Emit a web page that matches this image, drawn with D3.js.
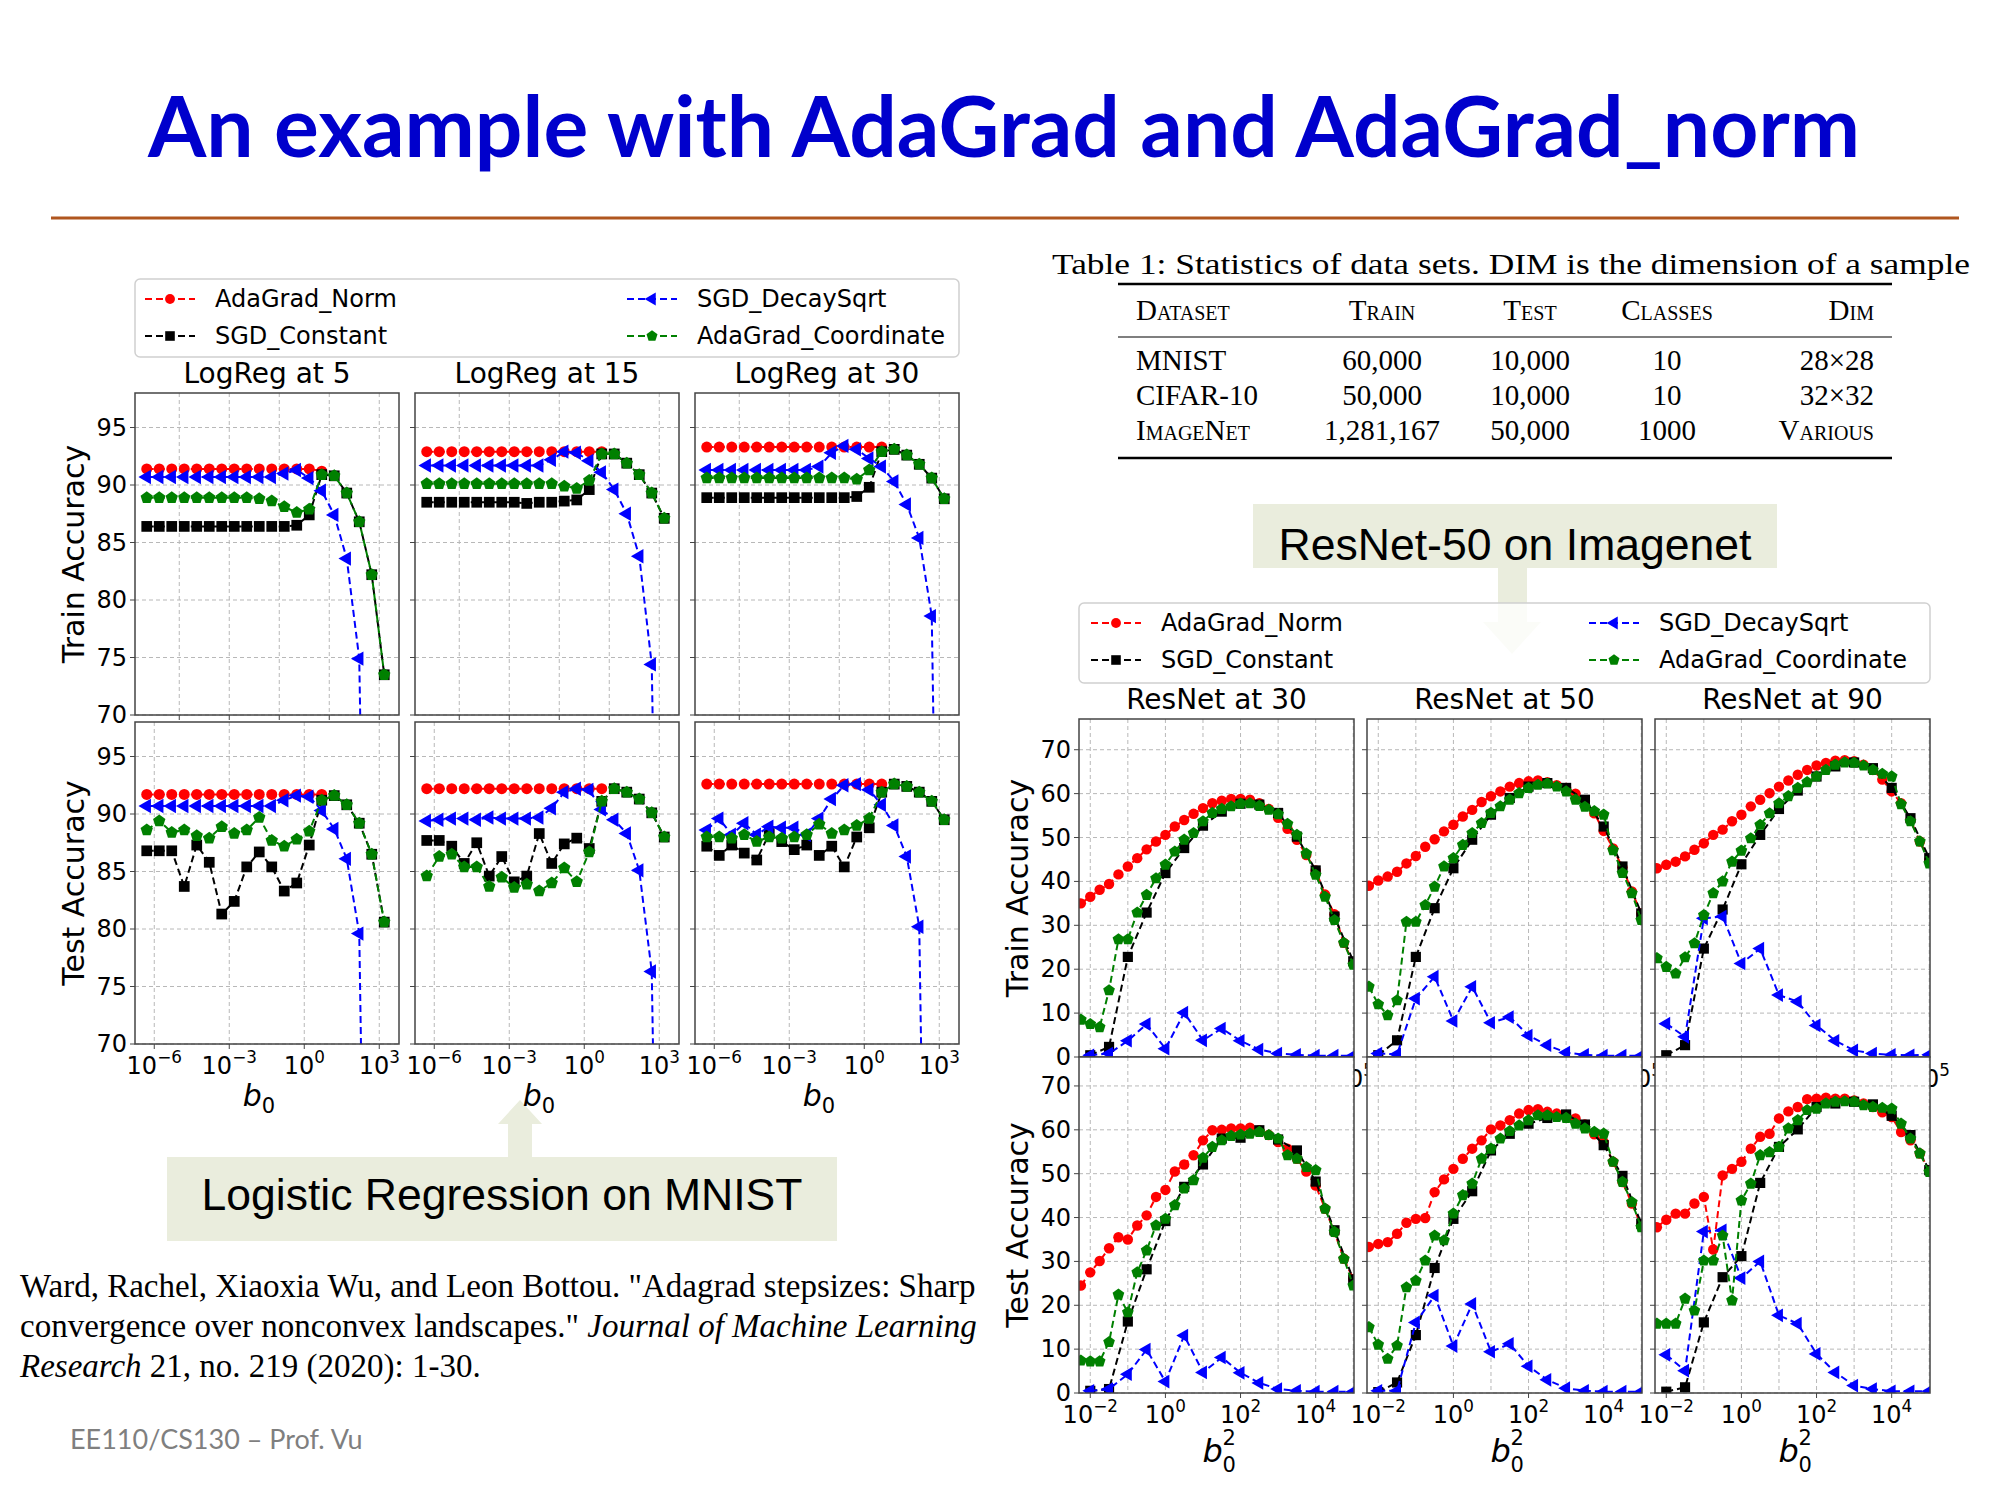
<!DOCTYPE html>
<html>
<head>
<meta charset="utf-8">
<script src="https://cdn.jsdelivr.net/npm/d3@7"></script>
<style>
  body { margin: 0; background: #fff; }
  svg { display: block; }
</style>
</head>
<body>
<script>
// ---- data: log-reg on MNIST (x = log10 b0) ----
const lrExp = [-6.3,-5.8,-5.3,-4.8,-4.3,-3.8,-3.3,-2.8,-2.3,-1.8,-1.3,-0.8,-0.3,0.2,0.7,1.2,1.7,2.2,2.7,3.2];

const lr5TrainNorm = [91.4,91.4,91.4,91.4,91.4,91.4,91.4,91.4,91.4,91.4,91.4,91.4,91.4,91.4,91.2];
const lr5TrainConst = [86.4,86.4,86.4,86.4,86.4,86.4,86.4,86.4,86.4,86.4,86.4,86.4,86.5,87.4,90.9,90.8,89.3,86.8,82.2,73.5];
const lr5TrainDecay = [90.7,90.7,90.7,90.7,90.7,90.7,90.7,90.7,90.7,90.7,90.7,91.0,91.3,90.6,89.5,87.4,83.6,74.9,10,10];
const lr5TrainCoord = [88.9,88.9,88.9,88.9,88.9,88.9,88.9,88.9,88.9,88.8,88.6,88.1,87.6,87.9,90.9,90.8,89.3,86.8,82.2,73.5];

const lr15TrainNorm = [92.9,92.9,92.9,92.9,92.9,92.9,92.9,92.9,92.9,92.9,92.9,92.9,92.9,92.9,92.9];
const lr15TrainConst = [88.5,88.5,88.5,88.5,88.5,88.5,88.5,88.5,88.4,88.5,88.5,88.6,88.7,89.6,92.7,92.7,91.9,90.9,89.3,87.1];
const lr15TrainDecay = [91.7,91.7,91.7,91.7,91.7,91.7,91.7,91.7,91.7,91.7,92.2,92.9,92.8,92.1,91.1,89.6,87.5,83.8,74.4,10];
const lr15TrainCoord = [90.1,90.1,90.1,90.1,90.1,90.1,90.1,90.1,90.1,90.1,90.1,89.9,89.7,90.4,92.7,92.7,91.9,90.9,89.3,87.1];

const lr30TrainNorm = [93.3,93.3,93.3,93.3,93.3,93.3,93.3,93.3,93.3,93.3,93.3,93.3,93.3,93.3,93.3];
const lr30TrainConst = [88.9,88.9,88.9,88.9,88.9,88.9,88.9,88.9,88.9,88.9,88.9,88.9,89.0,89.8,92.9,93.1,92.6,91.8,90.6,88.8];
const lr30TrainDecay = [91.3,91.3,91.3,91.3,91.3,91.3,91.3,91.3,91.3,91.6,92.8,93.4,93.1,92.3,91.6,90.3,88.3,85.4,78.6,10];
const lr30TrainCoord = [90.6,90.6,90.6,90.6,90.6,90.6,90.6,90.6,90.6,90.6,90.6,90.6,90.5,91.3,92.9,93.1,92.6,91.8,90.6,88.8];

const lr5TestNorm = [91.7,91.7,91.7,91.7,91.7,91.7,91.7,91.7,91.7,91.7,91.7,91.7,91.7,91.7,91.7];
const lr5TestConst = [86.8,86.8,86.8,83.7,87.3,85.8,81.3,82.4,85.4,86.7,85.4,83.3,84.0,87.3,91.2,91.6,90.8,89.2,86.5,80.6];
const lr5TestDecay = [90.7,90.7,90.7,90.7,90.7,90.7,90.7,90.7,90.7,90.7,90.7,91.2,91.6,91.5,90.3,88.7,86.1,79.6,10,10];
const lr5TestCoord = [88.6,89.4,88.4,88.6,88.1,87.9,88.9,88.3,88.6,89.7,87.7,87.2,87.8,88.5,91.2,91.6,90.8,89.2,86.5,80.6];

const lr15TestNorm = [92.2,92.2,92.2,92.2,92.2,92.2,92.2,92.2,92.2,92.2,92.2,92.2,92.2,92.2,92.2];
const lr15TestConst = [87.7,87.7,87.2,85.7,87.5,84.6,86.3,84.1,84.6,88.3,85.7,87.4,87.9,87.0,91.1,92.2,91.9,91.3,90.1,88.0];
const lr15TestDecay = [89.4,89.5,89.6,89.6,89.5,89.7,89.6,89.6,89.6,89.7,90.5,91.9,92.2,92.1,90.4,89.5,88.3,85.1,76.3,10];
const lr15TestCoord = [84.6,86.3,86.5,85.4,85.4,83.7,84.5,83.6,83.9,83.3,84.0,85.3,84.1,86.7,91.1,92.2,91.9,91.3,90.1,88.0];

const lr30TestNorm = [92.6,92.6,92.6,92.6,92.6,92.6,92.6,92.6,92.6,92.6,92.6,92.6,92.6,92.6,92.6];
const lr30TestConst = [87.2,86.4,87.3,86.6,86.0,88.3,87.6,86.9,87.3,86.4,87.2,85.4,88.0,88.8,91.9,92.6,92.4,91.9,91.1,89.5];
const lr30TestDecay = [88.6,89.6,88.2,89.2,88.2,88.9,88.8,88.8,88.2,89.6,91.3,92.5,92.6,92.1,90.8,89.0,86.3,80.2,10,10];
const lr30TestCoord = [88.0,88.0,87.9,88.2,87.6,88.0,87.9,88.0,88.2,89.1,88.3,88.6,89.0,89.6,91.9,92.6,92.4,91.9,91.1,89.5];

// ---- data: ResNet-50 on ImageNet (x = log10 b0^2) ----
const rnFineExp = [-2.25,-2,-1.75,-1.5,-1.25,-1,-0.75,-0.5,-0.25,0,0.25,0.5,0.75,1,1.25,1.5,1.75,2,2.25,2.5,2.75,3,3.25,3.5,3.75,4,4.25,4.5,4.75,5];
const rnCoarseExp = [-2,-1.5,-1,-0.5,0,0.5,1,1.5,2,2.5,3,3.5,4,4.5,5];

const rn30TrainNorm = [35.0,36.5,38.1,39.4,41.6,43.4,45.3,47.3,49.1,50.6,52.5,54.0,55.4,56.7,57.8,58.4,58.8,58.8,58.6,57.8,56.5,54.5,52.0,49.5,46.0,42.5,37.0,32.5,26.0,21.5];
const rn30TrainCoord = [8.5,7.5,6.8,15.2,26.8,26.8,32.9,36.9,40.7,43.8,46.8,49.5,51.0,53.7,55.6,56.5,57.1,57.7,57.8,57.2,56.3,55.3,53.1,50.6,46.3,41.5,36.5,31.2,26.0,21.0];
const rn30TrainConst = [0.4,2.3,22.8,32.9,41.9,47.6,52.7,55.9,57.7,57.5,55.6,50.2,42.5,32.0,21.8];
const rn30TrainDecay = [0.4,0.8,3.7,7.5,1.9,10.1,3.8,6.5,3.7,1.7,0.8,0.5,0.3,0.3,0.3];

const rn50TrainNorm = [39.0,40.2,41.1,42.2,44.1,45.8,47.9,49.6,51.4,52.9,54.8,56.3,58.1,59.4,60.5,61.6,62.4,62.8,63.0,62.6,61.9,61.3,60.0,58.3,55.5,51.5,47.5,43.2,37.7,32.7];
const rn50TrainCoord = [16.0,12.0,9.5,12.9,30.8,30.8,34.6,38.8,43.4,45.3,48.3,51.0,53.3,55.6,57.1,58.6,60.1,61.3,62.0,62.3,61.6,60.5,58.6,57.0,56.0,55.2,47.1,41.9,37.3,31.2];
const rn50TrainConst = [0.4,3.8,22.8,33.9,43.0,49.5,55.2,59.0,61.6,62.4,61.3,58.6,52.5,43.4,32.7];
const rn50TrainDecay = [0.8,0.6,13.3,18.3,8.2,16.0,7.8,9.1,4.9,2.7,1.0,0.5,0.3,0.3,0.3];

const rn90TrainNorm = [43.0,43.8,44.5,45.7,47.2,48.7,50.6,51.8,53.7,55.2,57.1,58.6,60.1,61.6,63.0,64.3,65.4,66.4,67.0,67.5,67.6,67.4,66.6,65.4,63.2,60.5,57.8,54.0,49.1,44.9];
const rn90TrainCoord = [22.5,20.5,19.0,22.7,25.9,32.3,37.3,40.0,44.5,47.0,49.8,52.9,55.5,57.8,59.4,61.3,62.6,63.9,65.4,66.6,67.1,67.0,66.4,65.4,64.5,63.9,57.6,53.7,49.1,44.1];
const rn90TrainConst = [0.4,2.7,24.7,33.6,43.9,50.6,56.5,60.7,63.9,66.2,67.1,65.8,61.3,54.4,45.3];
const rn90TrainDecay = [7.6,4.6,31.6,32.0,21.3,24.7,14.1,12.6,7.2,3.7,1.5,0.8,0.5,0.4,0.5];

const rn30TestNorm = [24.5,27.5,30.1,33.0,35.5,35.0,38.2,40.5,44.7,46.3,50.5,52.1,54.2,57.6,59.9,60.0,60.3,60.3,60.5,59.9,58.8,57.2,55.7,53.4,50.5,47.3,42.0,36.7,30.6,26.0];
const rn30TestCoord = [7.4,7.2,7.2,11.6,22.4,18.4,27.5,32.5,38.2,39.7,42.8,46.6,48.5,53.6,56.1,57.6,58.6,58.9,59.1,59.5,58.8,58.0,54.2,53.4,51.5,50.8,42.0,36.7,30.6,24.5];
const rn30TestConst = [0.5,0.9,16.3,28.2,39.2,47.0,52.1,58.0,58.2,59.9,57.8,55.3,48.2,37.1,25.9];
const rn30TestDecay = [0.5,0.9,4.3,9.9,2.6,13.1,4.7,8.1,4.6,2.3,0.9,0.5,0.3,0.3,0.3];

const rn50TestNorm = [33.3,34.0,34.4,36.3,38.8,39.7,39.9,45.8,48.7,51.1,53.4,55.7,57.6,60.1,61.0,62.2,63.7,64.5,64.7,64.1,63.7,63.3,62.6,61.2,59.0,57.2,52.7,48.1,43.2,38.2];
const rn50TestCoord = [15.0,11.0,7.8,10.8,24.1,25.6,30.2,35.9,34.8,40.9,45.1,47.7,53.4,55.7,58.0,59.7,61.0,62.2,63.3,63.3,62.9,62.7,61.4,60.3,59.5,59.1,52.7,48.1,43.5,37.8];
const rn50TestConst = [0.2,2.4,13.2,28.5,39.7,46.0,55.3,59.1,61.4,62.7,63.5,61.2,56.5,49.5,38.6];
const rn50TestDecay = [0.5,0.5,16.1,22.2,10.7,20.3,9.4,11.2,6.1,3.0,1.1,0.5,0.3,0.3,0.3];

const rn90TestNorm = [37.8,39.5,40.9,40.9,43.2,44.7,32.7,49.6,51.1,52.7,55.7,58.4,59.1,62.6,64.2,65.2,67.0,67.1,67.3,67.1,67.1,66.7,66.0,65.2,64.0,62.9,59.5,57.6,54.6,50.8];
const rn90TestCoord = [15.8,15.8,15.8,21.5,18.8,30.2,30.2,35.9,21.1,43.9,47.7,54.2,54.9,56.1,60.3,62.2,64.5,64.8,66.0,66.4,66.5,66.4,65.6,65.2,65.0,64.8,61.4,58.0,54.6,50.4];
const rn90TestConst = [0.3,1.3,16.1,26.4,31.2,47.9,56.1,60.1,65.2,66.0,66.4,65.8,63.2,58.8,50.8];
const rn90TestDecay = [8.7,5.1,36.8,37.1,26.2,30.0,17.7,15.8,8.9,4.7,1.7,0.9,0.4,0.4,0.4];

// ---- labels / ticks ----
const legendNames = ["AdaGrad_Norm", "SGD_Constant", "SGD_DecaySqrt", "AdaGrad_Coordinate"];
const lrTitles = ["LogReg at 5", "LogReg at 15", "LogReg at 30"];
const rnTitles = ["ResNet at 30", "ResNet at 50", "ResNet at 90"];
const lrYTicks = [70, 75, 80, 85, 90, 95];
const rnYTicks = [0, 10, 20, 30, 40, 50, 60, 70];
const lrXTicks = [-6, -3, 0, 3];
const lrTrainGrid = [-5, -3, -1, 1, 3];
const rnXTicks = [-2, 0, 2, 4];
const rnTrainXTicks = [5];
const rnGrid = [-2, -1, 0, 1, 2, 3, 4, 5];
const tableHead = ["Dataset", "Train", "Test", "Classes", "Dim"];
const tableRows = [
  ["MNIST", "60,000", "10,000", "10", "28×28"],
  ["CIFAR-10", "50,000", "10,000", "10", "32×32"],
  ["ImageNet", "1,281,167", "50,000", "1000", "Various"],
];

// ---- styles per method ----
const pentagon = {
  draw(ctx, size) {
    const r = Math.sqrt(size / 2.38);
    for (let i = 0; i < 5; i++) {
      const a = -Math.PI / 2 + i * 2 * Math.PI / 5;
      const px = r * Math.cos(a), py = r * Math.sin(a);
      i ? ctx.lineTo(px, py) : ctx.moveTo(px, py);
    }
    ctx.closePath();
  },
};
const style = {
  norm: { color: "#ff0000", sym: d3.symbolCircle, size: 95, rot: 0 },
  const: { color: "#000000", sym: d3.symbolSquare, size: 115, rot: 0 },
  decay: { color: "#0000ff", sym: d3.symbolTriangle, size: 90, rot: -90 },
  coord: { color: "#008000", sym: pentagon, size: 100, rot: 0 },
};
const legendKeys = ["norm", "const", "decay", "coord"];

const W = 2000, H = 1500;
const svg = d3.select("body").append("svg").attr("width", W).attr("height", H);
const sans = "'DejaVu Sans', sans-serif";
const serif = "'Liberation Serif', 'DejaVu Serif', serif";

// "10^e" tick label
function powLabel(g, x, y, e, fs) {
  const t = g.append("text").attr("x", x).attr("y", y).attr("text-anchor", "middle")
    .attr("font-family", sans).attr("font-size", fs).attr("fill", "#000");
  t.append("tspan").text("10");
  t.append("tspan").attr("dy", -fs * 0.45).attr("font-size", fs * 0.7)
    .text(e < 0 ? "\u2212" + Math.abs(e) : String(e));
}

let clipN = 0;
function panel(o) {
  const g = svg.append("g");
  const x = d3.scaleLog().domain([Math.pow(10, o.xDom[0]), Math.pow(10, o.xDom[1])]).range([o.x0, o.x0 + o.w]);
  const y = d3.scaleLinear().domain(o.yDom).range([o.y0 + o.h, o.y0]);
  g.append("rect").attr("x", o.x0).attr("y", o.y0).attr("width", o.w).attr("height", o.h).attr("fill", "#fff");

  // grid
  const grid = g.append("g").attr("stroke", "#b8b8b8").attr("stroke-width", 1).attr("stroke-dasharray", "4,3");
  o.xGrid.forEach((e) => grid.append("line").attr("x1", x(Math.pow(10, e))).attr("x2", x(Math.pow(10, e)))
    .attr("y1", o.y0).attr("y2", o.y0 + o.h));
  o.yTicks.forEach((v) => grid.append("line").attr("x1", o.x0).attr("x2", o.x0 + o.w)
    .attr("y1", y(v)).attr("y2", y(v)));

  // series
  const id = "clip" + (clipN++);
  svg.append("clipPath").attr("id", id).append("rect")
    .attr("x", o.x0).attr("y", o.y0).attr("width", o.w).attr("height", o.h);
  const plot = g.append("g").attr("clip-path", `url(#${id})`);
  o.series.forEach((s) => {
    const st = style[s.key];
    const pts = s.ys.map((v, i) => [x(Math.pow(10, s.xs[i])), y(v)]);
    plot.append("path").attr("d", d3.line()(pts)).attr("fill", "none")
      .attr("stroke", st.color).attr("stroke-width", 2).attr("stroke-dasharray", "7,4");
    const sym = d3.symbol().type(st.sym).size(st.size * (o.ms || 1));
    plot.append("g").selectAll("path").data(pts).join("path")
      .attr("d", sym).attr("fill", st.color)
      .attr("transform", (d) => `translate(${d[0]},${d[1]}) rotate(${st.rot})`);
  });

  // frame + ticks
  g.append("rect").attr("x", o.x0).attr("y", o.y0).attr("width", o.w).attr("height", o.h)
    .attr("fill", "none").attr("stroke", "#444").attr("stroke-width", 1.5);
  o.yTicks.forEach((v) => {
    g.append("line").attr("x1", o.x0 - 5).attr("x2", o.x0).attr("y1", y(v)).attr("y2", y(v)).attr("stroke", "#444");
    if (o.yLabels) g.append("text").attr("x", o.x0 - 8).attr("y", y(v) + 8).attr("text-anchor", "end")
      .attr("font-family", sans).attr("font-size", 24).text(v);
  });
  (o.xTicks || []).forEach((e) => {
    const xx = x(Math.pow(10, e));
    g.append("line").attr("x1", xx).attr("x2", xx).attr("y1", o.y0 + o.h).attr("y2", o.y0 + o.h + 5).attr("stroke", "#444");
    if (o.xLabels) powLabel(g, xx, o.y0 + o.h + 30, e, 24);
  });
  if (o.title) g.append("text").attr("x", o.x0 + o.w / 2).attr("y", o.y0 - 10).attr("text-anchor", "middle")
    .attr("font-family", sans).attr("font-size", 28).text(o.title);
  return g;
}

function legend(x0, y0, w, h, colX, textOff) {
  const g = svg.append("g");
  g.append("rect").attr("x", x0).attr("y", y0).attr("width", w).attr("height", h).attr("rx", 5)
    .attr("fill", "#fff").attr("fill-opacity", 0.8).attr("stroke", "#d0d0d0").attr("stroke-width", 1.5);
  legendKeys.forEach((k, i) => {
    const st = style[k];
    const cx = colX[Math.floor(i / 2)], cy = y0 + 20 + (i % 2) * 37;
    g.append("line").attr("x1", cx).attr("x2", cx + 50).attr("y1", cy).attr("y2", cy)
      .attr("stroke", st.color).attr("stroke-width", 2).attr("stroke-dasharray", "7,4");
    g.append("path").attr("d", d3.symbol().type(st.sym).size(st.size * 0.8)())
      .attr("fill", st.color).attr("transform", `translate(${cx + 25},${cy}) rotate(${st.rot})`);
    g.append("text").attr("x", cx + textOff).attr("y", cy + 8).attr("font-family", sans)
      .attr("font-size", 24).text(legendNames[i]);
  });
}

// ---- slide header ----
svg.append("text").attr("x", 1004).attr("y", 157).attr("text-anchor", "middle")
  .attr("font-family", "Lato, 'Open Sans', sans-serif").attr("font-weight", 700).attr("font-size", 84)
  .attr("fill", "#0000cc").attr("textLength", 1712).attr("lengthAdjust", "spacingAndGlyphs")
  .text("An example with AdaGrad and AdaGrad_norm");
svg.append("line").attr("x1", 51).attr("x2", 1959).attr("y1", 218).attr("y2", 218)
  .attr("stroke", "#b0561f").attr("stroke-width", 3);

// ---- callout arrows (behind charts) ----
const boxFill = "#eaeddd";
svg.append("path").attr("fill", boxFill)
  .attr("d", "M1498,568 L1527,568 L1527,622 L1541,622 L1512,654 L1483,622 L1498,622 Z");
svg.append("path").attr("fill", boxFill)
  .attr("d", "M508,1160 L532,1160 L532,1124 L542,1124 L520,1100 L498,1124 L508,1124 Z");

// ---- logistic regression grid ----
const lrPanelX = [135, 415, 695], lrW = 264;
const lrTrain = [
  [lr5TrainNorm, lr5TrainConst, lr5TrainDecay, lr5TrainCoord],
  [lr15TrainNorm, lr15TrainConst, lr15TrainDecay, lr15TrainCoord],
  [lr30TrainNorm, lr30TrainConst, lr30TrainDecay, lr30TrainCoord],
];
const lrTest = [
  [lr5TestNorm, lr5TestConst, lr5TestDecay, lr5TestCoord],
  [lr15TestNorm, lr15TestConst, lr15TestDecay, lr15TestCoord],
  [lr30TestNorm, lr30TestConst, lr30TestDecay, lr30TestCoord],
];
const mk = (arrs, xsFor) => legendKeys.map((k, i) => ({ key: k, xs: xsFor(k), ys: arrs[i] }));
lrPanelX.forEach((px, j) => {
  panel({ x0: px, y0: 393, w: lrW, h: 322, xDom: [-6.77, 3.79], yDom: [70, 98], yTicks: lrYTicks,
    xGrid: lrTrainGrid, xTicks: lrTrainGrid, yLabels: j === 0, title: lrTitles[j],
    series: mk(lrTrain[j], () => lrExp) });
  panel({ x0: px, y0: 722, w: lrW, h: 322, xDom: [-6.77, 3.79], yDom: [70, 98], yTicks: lrYTicks,
    xGrid: lrXTicks, xTicks: lrXTicks, xLabels: true, yLabels: j === 0,
    series: mk(lrTest[j], () => lrExp) });
  const lab = svg.append("text").attr("x", px + lrW / 2 - 8).attr("y", 1106).attr("text-anchor", "middle")
    .attr("font-family", sans).attr("font-size", 30);
  lab.append("tspan").attr("font-style", "italic").text("b");
  lab.append("tspan").attr("dy", 7).attr("font-size", 21).text("0");
});
[["Train Accuracy", 554], ["Test Accuracy", 883]].forEach(([t, cy]) =>
  svg.append("text").attr("transform", `translate(84,${cy}) rotate(-90)`).attr("text-anchor", "middle")
    .attr("font-family", sans).attr("font-size", 30).text(t));
legend(135, 279, 824, 78, [145, 627], 70);

// ---- ResNet grid ----
const rnPanelX = [1079, 1367, 1655], rnW = 275;
const rnTrain = [
  [rn30TrainNorm, rn30TrainConst, rn30TrainDecay, rn30TrainCoord],
  [rn50TrainNorm, rn50TrainConst, rn50TrainDecay, rn50TrainCoord],
  [rn90TrainNorm, rn90TrainConst, rn90TrainDecay, rn90TrainCoord],
];
const rnTest = [
  [rn30TestNorm, rn30TestConst, rn30TestDecay, rn30TestCoord],
  [rn50TestNorm, rn50TestConst, rn50TestDecay, rn50TestCoord],
  [rn90TestNorm, rn90TestConst, rn90TestDecay, rn90TestCoord],
];
const rnXs = (k) => (k === "norm" || k === "coord") ? rnFineExp : rnCoarseExp;
rnPanelX.forEach((px, j) => {
  panel({ x0: px, y0: 719, w: rnW, h: 338, xDom: [-2.3, 5.02], yDom: [0, 77], yTicks: rnYTicks,
    xGrid: rnGrid, xTicks: rnTrainXTicks, xLabels: true, yLabels: j === 0, title: rnTitles[j], ms: 0.9,
    series: mk(rnTrain[j], rnXs) });
});
rnPanelX.forEach((px, j) => {
  panel({ x0: px, y0: 1057, w: rnW, h: 336, xDom: [-2.3, 5.02], yDom: [0, 76.6], yTicks: rnYTicks,
    xGrid: rnGrid, xTicks: rnXTicks, xLabels: true, yLabels: j === 0, ms: 0.9,
    series: mk(rnTest[j], rnXs) });
  const cx = px + rnW / 2 - 14;
  svg.append("text").attr("x", cx).attr("y", 1462).attr("font-family", sans).attr("font-size", 32)
    .attr("font-style", "italic").text("b");
  svg.append("text").attr("x", cx + 20).attr("y", 1445).attr("font-family", sans).attr("font-size", 21).text("2");
  svg.append("text").attr("x", cx + 20).attr("y", 1472).attr("font-family", sans).attr("font-size", 21).text("0");
});
[["Train Accuracy", 888], ["Test Accuracy", 1225]].forEach(([t, cy]) =>
  svg.append("text").attr("transform", `translate(1028,${cy}) rotate(-90)`).attr("text-anchor", "middle")
    .attr("font-family", sans).attr("font-size", 30).text(t));
legend(1079, 603, 851, 80, [1091, 1589], 70);

// ---- table ----
svg.append("text").attr("x", 1052).attr("y", 274).attr("font-family", serif).attr("font-size", 30)
  .attr("textLength", 918).attr("lengthAdjust", "spacingAndGlyphs")
  .text("Table 1: Statistics of data sets. DIM is the dimension of a sample");
[[284, 2.5], [337, 1.2], [458, 2.5]].forEach(([yy, sw]) =>
  svg.append("line").attr("x1", 1118).attr("x2", 1892).attr("y1", yy).attr("y2", yy)
    .attr("stroke", "#000").attr("stroke-width", sw));
const colX = [1136, 1382, 1530, 1667, 1874];
const colAnchor = ["start", "middle", "middle", "middle", "end"];
tableHead.forEach((h, c) => svg.append("text").attr("x", colX[c]).attr("y", 320)
  .attr("text-anchor", colAnchor[c]).attr("font-family", serif).attr("font-size", 29)
  .attr("font-variant", "small-caps").text(h));
tableRows.forEach((row, r) => row.forEach((v, c) => svg.append("text").attr("x", colX[c])
  .attr("y", 370 + r * 35).attr("text-anchor", colAnchor[c]).attr("font-family", serif)
  .attr("font-size", 29).attr("font-variant", (r === 2 && (c === 0 || c === 4)) ? "small-caps" : "normal").text(v)));

// ---- callout boxes ----
svg.append("rect").attr("x", 1253).attr("y", 504).attr("width", 524).attr("height", 64).attr("fill", boxFill);
svg.append("text").attr("x", 1515).attr("y", 560).attr("text-anchor", "middle")
  .attr("font-family", "'Liberation Sans', Arial, sans-serif").attr("font-size", 44)
  .attr("textLength", 473).attr("lengthAdjust", "spacingAndGlyphs").text("ResNet-50 on Imagenet");
svg.append("rect").attr("x", 167).attr("y", 1157).attr("width", 670).attr("height", 84).attr("fill", boxFill);
svg.append("text").attr("x", 502).attr("y", 1210).attr("text-anchor", "middle")
  .attr("font-family", "'Liberation Sans', Arial, sans-serif").attr("font-size", 44)
  .attr("textLength", 601).attr("lengthAdjust", "spacingAndGlyphs").text("Logistic Regression on MNIST");

// ---- citation + footer ----
const cite = svg.append("g").attr("font-family", serif).attr("font-size", 33);
cite.append("text").attr("x", 20).attr("y", 1297)
  .text("Ward, Rachel, Xiaoxia Wu, and Leon Bottou. \"Adagrad stepsizes: Sharp");
const c2 = cite.append("text").attr("x", 20).attr("y", 1337);
c2.append("tspan").text("convergence over nonconvex landscapes.\" ");
c2.append("tspan").attr("font-style", "italic").text("Journal of Machine Learning");
const c3 = cite.append("text").attr("x", 20).attr("y", 1377);
c3.append("tspan").attr("font-style", "italic").text("Research");
c3.append("tspan").text(" 21, no. 219 (2020): 1-30.");
svg.append("text").attr("x", 70).attr("y", 1449).attr("font-family", "Lato, 'Open Sans', sans-serif")
  .attr("font-size", 27).attr("fill", "#7f7f7f").text("EE110/CS130 \u2013 Prof. Vu");
</script>
</body>
</html>
